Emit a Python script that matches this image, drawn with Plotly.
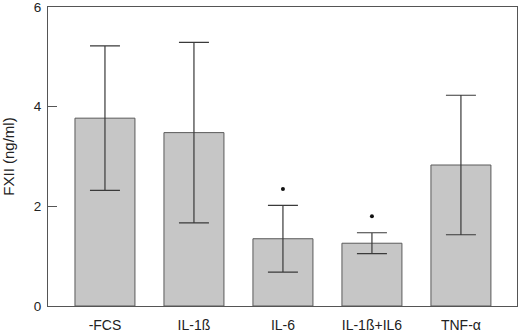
import plotly.graph_objects as go

categories = ["-FCS", "IL-1ß", "IL-6", "IL-1ß+IL6", "TNF-α"]
means = [3.77, 3.48, 1.35, 1.26, 2.83]
errors = [1.45, 1.81, 0.67, 0.21, 1.40]
sig_categories = ["IL-6", "IL-1ß+IL6"]
sig_y = [2.35, 1.80]
y_ticks = [0, 2, 4, 6]

font = "Liberation Sans, Arial, sans-serif"

fig = go.Figure()
fig.add_trace(go.Bar(
    x=categories, y=means, width=0.674,
    marker=dict(color="#c6c6c6", line=dict(color="#5a5a5a", width=1)),
    error_y=dict(type="data", array=errors, visible=True,
                 color="#3a3a3a", thickness=1.2, width=15),
))
fig.add_trace(go.Scatter(
    x=sig_categories, y=sig_y, mode="markers",
    marker=dict(color="#111", size=4, symbol="circle"),
))

fig.update_layout(
    width=520, height=332,
    margin=dict(l=48, r=3, t=7, b=26),
    paper_bgcolor="white", plot_bgcolor="white",
    showlegend=False,
    font=dict(family=font, color="#222", size=13),
)
fig.update_xaxes(
    range=[-0.64, 4.63], showline=True, mirror=True, linecolor="#555", linewidth=1,
    ticks="", showgrid=False, tickfont=dict(size=14), ticklabelstandoff=6,
    automargin=False,
)
fig.update_yaxes(
    range=[0, 6.001], tickvals=y_ticks, showline=True, mirror=True, linecolor="#555",
    linewidth=1, ticks="inside", ticklen=9, tickcolor="#555", showgrid=False,
    zeroline=False, tickfont=dict(size=13.5), ticklabelstandoff=3,
    ticklabeloverflow="allow",
    title=dict(text="FXII (ng/ml)", font=dict(size=15), standoff=17),
    automargin=False,
)
fig.write_html("out.html", config={"displayModeBar": False},
               post_script="document.body.style.margin='0';document.body.style.padding='0';")
